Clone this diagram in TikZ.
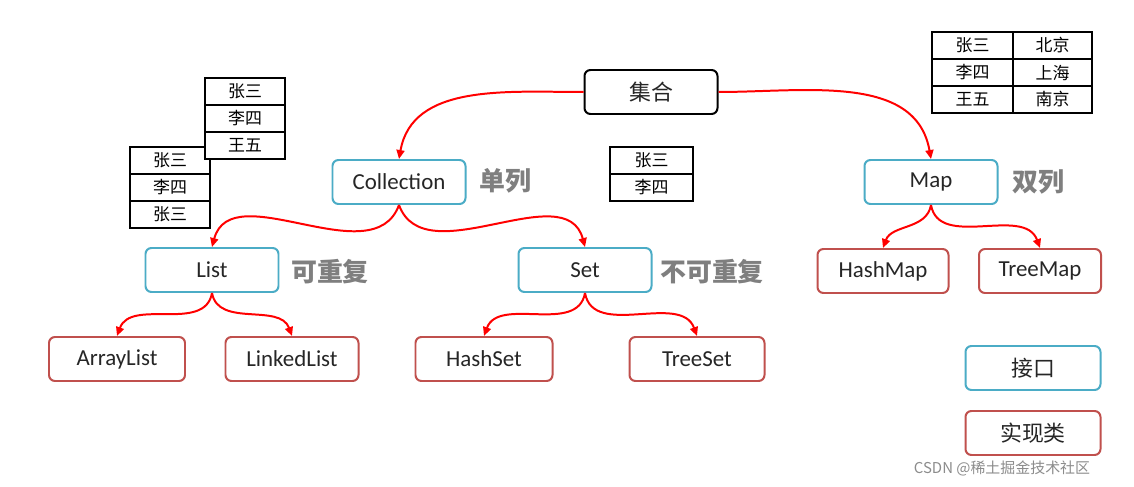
\documentclass[tikz,border=0pt]{standalone}
\usepackage{fontspec}
\setmainfont{Carlito}
\newfontfamily\cjk{Noto Sans CJK SC}
\usetikzlibrary{arrows.meta}
\definecolor{ifc}{HTML}{4BACC6}
\definecolor{imp}{HTML}{C0504D}
\definecolor{lbl}{HTML}{7F7F7F}
\tikzset{
 box/.style={draw,line width=2pt,rounded corners=6pt,minimum width=133bp,minimum height=44bp,font=\fontsize{22}{26}\selectfont\cjk,text=black!85},
 ifbox/.style={box,draw=ifc,font=\fontsize{23}{26}\selectfont},
 imbox/.style={box,draw=imp,font=\fontsize{23}{26}\selectfont},
 lab/.style={font=\fontsize{26}{30}\selectfont\cjk\bfseries,text=lbl},
 cell/.style={draw,fill=white,line width=2pt,minimum width=80bp,minimum height=27bp,inner sep=0pt,font=\fontsize{17}{19}\selectfont\cjk},
 arr/.style={red,line width=2pt,-{Triangle[length=9pt,width=8pt]}}
}
\begin{document}
\begin{tikzpicture}[x=1bp,y=-1bp]
\useasboundingbox[fill=white] (0,0) rectangle (1134,487);
\node[box,draw=black] (root) at (651,92) {集合};
\node[ifbox] (coll) at (399,182) {Collection};
\node[ifbox] (map) at (931,182) {Map};
\node[ifbox] (list) at (212,270) {List};
\node[ifbox] (set) at (585,270) {Set};
\node[imbox,minimum width=131bp] (hm) at (883,271) {HashMap};
\node[imbox,minimum width=122bp] (tm) at (1040,271) {TreeMap};
\node[imbox,minimum width=136bp] (al) at (117,359) {ArrayList};
\node[imbox] (ll) at (292,359) {LinkedList};
\node[imbox,minimum width=137bp] (hs) at (484,359) {HashSet};
\node[imbox,minimum width=135bp] (ts) at (697,359) {TreeSet};
\node[box,draw=ifc,minimum width=135bp] (k1) at (1033,368) {接口};
\node[box,draw=imp,minimum width=135bp] (k2) at (1033,433) {实现类};
\node[lab] (l1) at (505,181) {单列};
\node[lab] (l2) at (1038,182) {双列};
\node[lab] (l3) at (330,272) {可重复};
\node[lab] (l4) at (712,272) {不可重复};
% tables
\node[cell] (b1) at (170,160.5) {张三};
\node[cell] (b2) at (170,187.5) {李四};
\node[cell] (b3) at (170,214.5) {张三};
\node[cell] (a1) at (245,91.5) {张三};
\node[cell] (a2) at (245,118.5) {李四};
\node[cell] (a3) at (245,145.5) {王五};
\node[cell,minimum width=83bp] (c1) at (651.5,160.5) {张三};
\node[cell,minimum width=83bp] (c2) at (651.5,187.5) {李四};
\node[cell,minimum width=81bp] (d1) at (972.5,45.5) {张三};
\node[cell,minimum width=81bp] (d2) at (972.5,72.5) {李四};
\node[cell,minimum width=81bp] (d3) at (972.5,99.5) {王五};
\node[cell,minimum width=79bp] (e1) at (1052.5,45.5) {北京};
\node[cell,minimum width=79bp] (e2) at (1052.5,72.5) {上海};
\node[cell,minimum width=79bp] (e3) at (1052.5,99.5) {南京};
% arrows
\draw[arr] (root.west) to[out=180,in=80] (coll.north);
\draw[arr] (root.east) to[out=0,in=100] (map.north);
\draw[arr] (coll.south) to[out=-110,in=75] (list.north);
\draw[arr] (coll.south) to[out=-70,in=105] (set.north);
\draw[arr] (map.south) to[out=-100,in=70] (hm.north);
\draw[arr] (map.south) to[out=-80,in=110] (tm.north);
\draw[arr] (list.south) to[out=-100,in=70] (al.north);
\draw[arr] (list.south) to[out=-80,in=110] (ll.north);
\draw[arr] (set.south) to[out=-100,in=70] (hs.north);
\draw[arr] (set.south) to[out=-80,in=110] (ts.north);
\node[text=black!45,font=\fontsize{15}{17}\selectfont\cjk] (wm) at (1002,468) {CSDN @稀土掘金技术社区};
\end{tikzpicture}
\end{document}
